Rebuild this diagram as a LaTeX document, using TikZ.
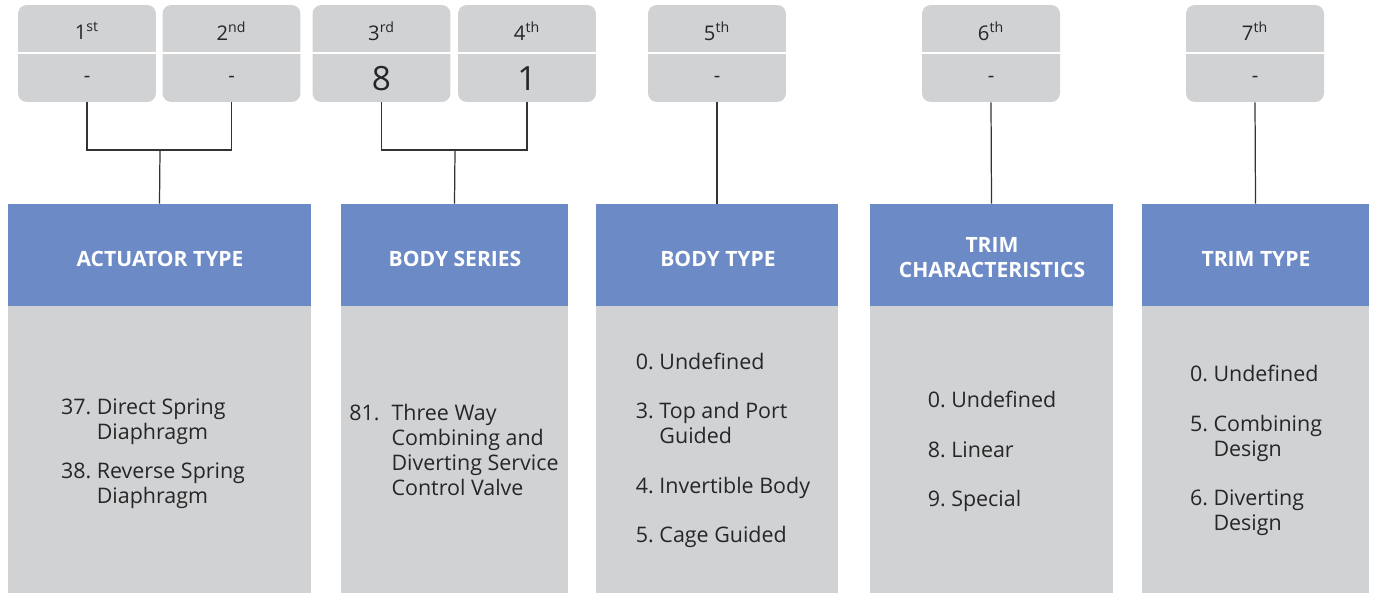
\documentclass[tikz,border=0pt]{standalone}
\usepackage{fontspec}
\setmainfont{Open Sans}
\usetikzlibrary{positioning}
\definecolor{headblue}{HTML}{6B8AC6}
\definecolor{boxgray}{HTML}{D1D2D4}
\definecolor{linegray}{HTML}{333333}
\begin{document}
\begin{tikzpicture}
[x=0.02cm,y=-0.02cm,
% Styles
digit box/.style={fill=boxgray,rounded corners=5pt,minimum width=2.76cm,minimum height=1.94cm,inner sep=0pt},
digit label/.style={font=\fontsize{11.5}{13}\selectfont,text=black!85},
digit value/.style={font=\fontsize{11.5}{13}\selectfont,text=black!85},
big value/.style={font=\fontsize{19}{21}\selectfont,text=black!85},
head box/.style={fill=headblue,minimum height=2.04cm,inner sep=0pt},
head text/.style={text=white,font=\bfseries\fontsize{12}{14.2}\selectfont,align=center,inner sep=0pt},
body box/.style={fill=boxgray,minimum height=5.74cm,inner sep=0pt},
list text/.style={font=\fontsize{12.2}{14.2}\selectfont,text=black!85,inner sep=0pt},
link/.style={draw=linegray,line width=0.7pt}]
\useasboundingbox (0,0) rectangle (1375,593);
% Digit boxes
\foreach \name/\xc/\lab/\val/\sty in {t1/87/1\textsuperscript{st}/-/digit value,
  t2/231.5/2\textsuperscript{nd}/-/digit value,
  t3/381.5/3\textsuperscript{rd}/8/big value,
  t4/527/4\textsuperscript{th}/1/big value,
  t5/717/5\textsuperscript{th}/-/digit value,
  t6/991/6\textsuperscript{th}/-/digit value,
  t7/1255/7\textsuperscript{th}/-/digit value}
{
\node[digit box] (\name) at (\xc,53.5) {};
\draw[white,line width=1pt] (\name.west |- 0,53) -- (\name.east |- 0,53);
\node[digit label] (\name-lab) at (\xc,31) {\lab};
\node[\sty] (\name-val) at (\xc,79) {\val};
}
% Headings
\node[head box,minimum width=6.06cm] (h1) at (159.5,255) {};
\node[head box,minimum width=4.54cm] (h2) at (454.5,255) {};
\node[head box,minimum width=4.84cm] (h3) at (717,255) {};
\node[head box,minimum width=4.86cm] (h4) at (991.5,255) {};
\node[head box,minimum width=4.54cm] (h5) at (1255.5,255) {};
\node[head text] (h1-txt) at (160,259) {ACTUATOR TYPE};
\node[head text] (h2-txt) at (455,259) {BODY SERIES};
\node[head text] (h3-txt) at (718,259) {BODY TYPE};
\node[head text] (h4-txt) at (992,258) {TRIM\\CHARACTERISTICS};
\node[head text] (h5-txt) at (1256,259) {TRIM TYPE};
% Option lists
\node[body box,minimum width=6.06cm] (b1) at (159.5,449.5) {};
\node[body box,minimum width=4.54cm] (b2) at (454.5,449.5) {};
\node[body box,minimum width=4.84cm] (b3) at (717,449.5) {};
\node[body box,minimum width=4.86cm] (b4) at (991.5,449.5) {};
\node[body box,minimum width=4.54cm] (b5) at (1255.5,449.5) {};
\node[list text] (l1) at (153,454) {%
\begin{tabular}{@{}l@{\ }l@{}}
37. & Direct Spring\\ & Diaphragm\\[8pt]
38. & Reverse Spring\\ & Diaphragm
\end{tabular}};
\node[list text] (l2) at (454,453) {%
\begin{tabular}{@{}l@{\;\;}l@{}}
81. & Three Way\\ & Combining and\\ & Diverting Service\\ & Control Valve
\end{tabular}};
\node[list text] (l3) at (723,451) {%
\begin{tabular}{@{}l@{\ }l@{}}
0. & Undefined\\[14pt]
3. & Top and Port\\ & Guided\\[14pt]
4. & Invertible Body\\[14pt]
5. & Cage Guided
\end{tabular}};
\node[list text] (l4) at (992,452) {%
\begin{tabular}{@{}l@{\ }l@{}}
0. & Undefined\\[14pt]
8. & Linear\\[14pt]
9. & Special
\end{tabular}};
\node[list text] (l5) at (1256,451) {%
\begin{tabular}{@{}l@{\ }l@{}}
0. & Undefined\\[14pt]
5. & Combining\\ & Design\\[14pt]
6. & Diverting\\ & Design
\end{tabular}};
% Connectors
\coordinate (j1) at (160,150);
\coordinate (j2) at (455,150);
\draw[link] (t1.south) |- (j1) -| (t2.south);
\draw[link] (j1) -- (h1.north);
\draw[link] (t3.south) |- (j2) -| (t4.south);
\draw[link] (j2) -- (h2.north);
\draw[link] (t5.south) -- (h3.north);
\draw[link] (t6.south) -- (h4.north);
\draw[link] (t7.south) -- (h5.north);
\end{tikzpicture}
\end{document}
